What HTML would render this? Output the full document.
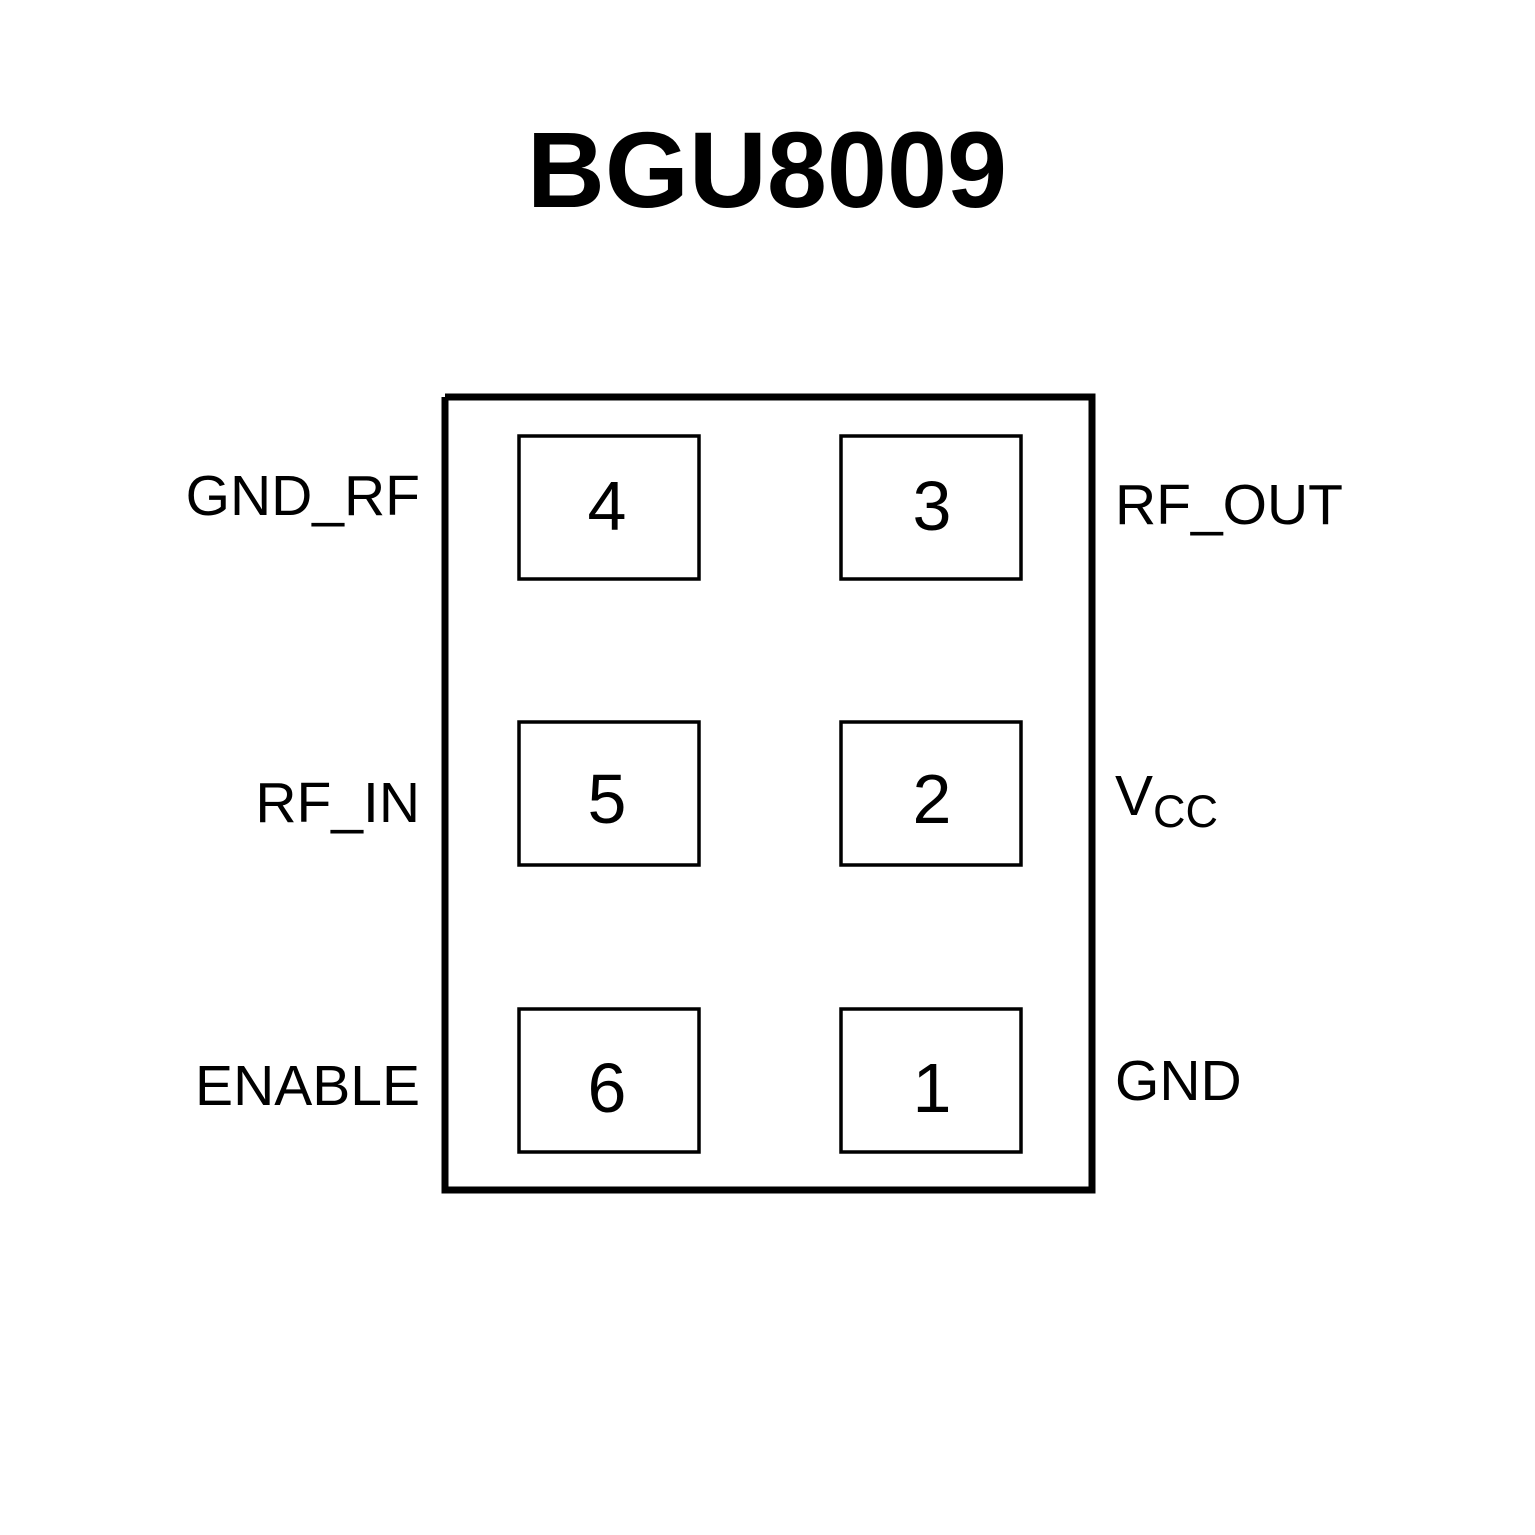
<!DOCTYPE html>
<html><head><style>
html,body{margin:0;padding:0;background:#fff;}
svg{display:block;}
</style></head><body>
<svg width="1535" height="1535" viewBox="0 0 1535 1535" xmlns="http://www.w3.org/2000/svg">
<text x="767" y="207" text-anchor="middle" font-family="Liberation Sans, sans-serif" font-weight="bold" font-size="108">BGU8009</text>
<polyline points="445,397 1092,397 1092,1190 445,1190 445,397" fill="none" stroke="#000" stroke-width="7"/>
<g fill="none" stroke="#000" stroke-width="3.5">
<rect x="519" y="436" width="180" height="143"/>
<rect x="841" y="436" width="180" height="143"/>
<rect x="519" y="722" width="180" height="143"/>
<rect x="841" y="722" width="180" height="143"/>
<rect x="519" y="1009" width="180" height="143"/>
<rect x="841" y="1009" width="180" height="143"/>
</g>
<g font-family="Liberation Sans, sans-serif" font-size="70" text-anchor="middle">
<text x="607" y="530">4</text>
<text x="932" y="530">3</text>
<text x="607" y="823">5</text>
<text x="932" y="823">2</text>
<text x="607" y="1112">6</text>
<text x="932" y="1112">1</text>
</g>
<g font-family="Liberation Sans, sans-serif" font-size="57">
<text x="420" y="515" text-anchor="end">GND_RF</text>
<text x="420" y="822" text-anchor="end">RF_IN</text>
<text x="420" y="1105" text-anchor="end">ENABLE</text>
<text x="1115" y="524">RF_OUT</text>
<text x="1115" y="815">V<tspan font-size="45" dy="12">CC</tspan></text>
<text x="1115" y="1100">GND</text>
</g>
</svg>
</body></html>
